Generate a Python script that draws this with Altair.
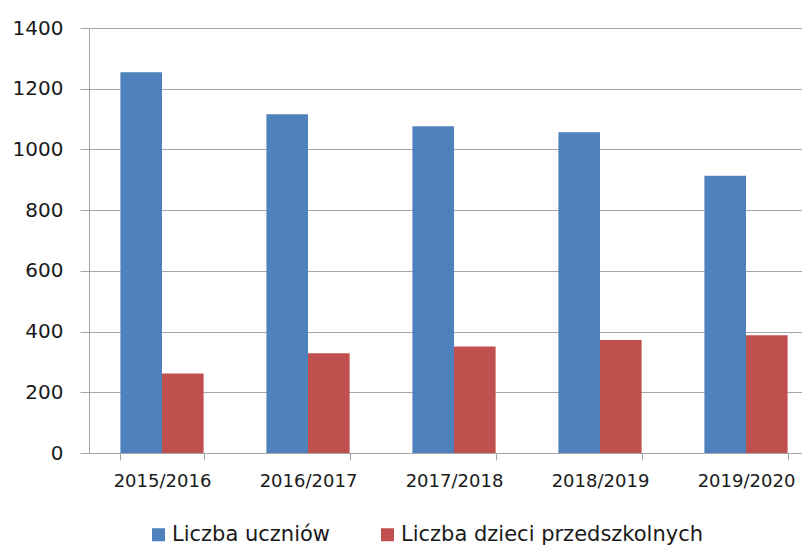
import altair as alt
import pandas as pd

years = ["2015/2016", "2016/2017", "2017/2018", "2018/2019", "2019/2020"]
series_names = ["Liczba uczniów", "Liczba dzieci przedszkolnych"]
uczniowie = [1254, 1116, 1076, 1057, 913]
przedszkolne = [262, 329, 351, 372, 388]
colors = ["#4F81BD", "#C0504D"]
y_ticks = [0, 200, 400, 600, 800, 1000, 1200, 1400]

rows = []
for i, yr in enumerate(years):
    rows.append({"rok": yr, "seria": series_names[0], "wartosc": uczniowie[i]})
    rows.append({"rok": yr, "seria": series_names[1], "wartosc": przedszkolne[i]})
df = pd.DataFrame(rows)

grid_col = "#a6a6a6"
font = "DejaVu Sans"

chart = alt.Chart(df).mark_bar().encode(
    x=alt.X(
        "rok:N",
        sort=years,
        scale=alt.Scale(range=[0, 730], paddingInner=0.43, paddingOuter=0.215),
        axis=alt.Axis(
            title=None, labelAngle=0, labelFont=font, labelFontSize=18,
            labelColor="#1a1a1a", tickBand="extent", tickSize=7,
            tickColor=grid_col, domainColor=grid_col, labelPadding=12, grid=False,
        ),
    ),
    xOffset=alt.XOffset("seria:N", sort=series_names),
    y=alt.Y(
        "wartosc:Q",
        scale=alt.Scale(domain=[0, 1400]),
        axis=alt.Axis(
            title=None, values=y_ticks, format="d", grid=True, gridColor=grid_col,
            tickSize=9, tickColor=grid_col, domainColor=grid_col,
            labelFont=font, labelFontSize=20, labelColor="#1a1a1a",
            labelPadding=17,
        ),
    ),
    color=alt.Color(
        "seria:N",
        sort=series_names,
        scale=alt.Scale(domain=series_names, range=colors),
        legend=alt.Legend(
            orient="none", legendX=59, legendY=496, direction="horizontal",
            title=None, symbolType="square", symbolSize=169,
            labelFontSize=21, labelFont=font, labelColor="#1a1a1a",
            columnPadding=46, labelOffset=3, symbolStrokeWidth=0,
            padding=0, labelLimit=0,
        ),
    ),
).properties(
    width=713,
    height=425,
    autosize=alt.AutoSizeParams(type="none"),
    padding={"left": 81, "top": 20, "right": 0, "bottom": 92},
).configure_view(stroke=None)

chart.save("out.html", embed_options={"renderer": "svg", "actions": False})
